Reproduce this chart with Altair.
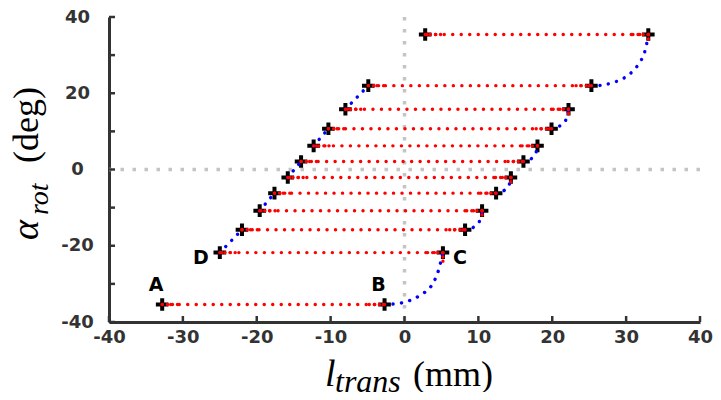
import altair as alt
import pandas as pd

# ---------------- data ----------------
x_ticks = [-40, -30, -20, -10, 0, 10, 20, 30, 40]
y_ticks = [-40, -30, -20, -10, 0, 10, 20, 30, 40]
y_labels = [-40, -20, 0, 20, 40]

# turning points (black crosses) in path order
wx = [-32.8, -2.7, 5.2, -25.0, -22.0, 8.2, 10.5, -19.6, -17.6, 12.4, 14.4, -15.8,
      -14.0, 16.1, 18.0, -12.3, -10.3, 19.9, 22.2, -8.0, -4.9, 25.3, 33.0, 2.8]
wy = [-35.4, -35.4, -21.8, -21.8, -15.8, -15.8, -10.8, -10.8, -6.2, -6.2, -2.1, -2.1,
      2.1, 2.1, 6.2, 6.2, 10.7, 10.7, 15.8, 15.8, 22.0, 22.0, 35.4, 35.4]

# curved blue connectors on the right side (connector index -> points)
curves_x = {
    0: [-2.7, -0.4, 1.6, 3.4, 4.3, 4.9, 5.2],
    2: [8.2, 9.2, 10.0, 10.4, 10.5],
    4: [12.4, 13.4, 14.1, 14.4],
    6: [16.1, 17.0, 17.7, 18.0],
    8: [19.9, 21.1, 21.9, 22.2],
    10: [25.3, 26.7, 28.7, 30.2, 31.5, 32.3, 32.7, 33.0],
}
curves_y = {
    0: [-35.4, -35.0, -33.6, -31.1, -28.1, -24.3, -21.8],
    2: [-15.8, -15.3, -14.0, -12.5, -10.8],
    4: [-6.2, -5.6, -4.3, -2.1],
    6: [2.1, 2.6, 4.0, 6.2],
    8: [10.7, 11.5, 13.2, 15.8],
    10: [22.0, 22.1, 23.1, 24.6, 27.1, 29.7, 32.2, 35.4],
}

# red hooks below the right-hand turning points
hook_idx = [2, 6, 10, 14, 18, 22]
hook_bottom = [-24.3, -12.0, -3.3, 5.2, 14.6, 33.4]

label_names = ["A", "B", "C", "D"]
label_idx = [0, 1, 2, 3]

# ---------------- layout ----------------
W, H = 591, 305
DENSE = 2.6
RED, BLUE = "#ff0000", "#0000ff"
AX = "#333333"

XS = alt.Scale(domain=[-40, 40], nice=False, zero=False)
YS = alt.Scale(domain=[-40, 40], nice=False, zero=False)
lab_expr = "'' + datum.value"
xax = alt.Axis(values=x_ticks, title=None, grid=False, ticks=False, tickSize=0,
               domainColor=AX, domainWidth=3, labelFont="DejaVu Sans",
               labelFontWeight="bold", labelFontSize=18, labelColor=AX,
               labelPadding=6, labelFlush=False, labelOverlap=False,
               labelExpr=lab_expr)
yax = alt.Axis(values=y_labels, title=None, grid=False, ticks=False, tickSize=0,
               domainColor=AX, domainWidth=3, labelFont="DejaVu Sans",
               labelFontWeight="bold", labelFontSize=18, labelColor=AX,
               labelPadding=32, labelAlign="center", labelBaseline="middle",
               labelFlush=False, labelOverlap=False, labelExpr=lab_expr)


def X(f="x"):
    return alt.X(f"{f}:Q", scale=XS, axis=xax)


def Y(f="y"):
    return alt.Y(f"{f}:Q", scale=YS, axis=yax)


# ---------------- build tables ----------------
red_rows = pd.DataFrame({"x": wx[0::2], "x2": wx[1::2], "y": wy[0::2]})

dense_rows = []
for k in range(12):
    a, b, y = wx[2 * k], wx[2 * k + 1], wy[2 * k]
    s = 1 if b > a else -1
    dense_rows.append({"x": a, "x2": a + s * DENSE, "y": y})
    dense_rows.append({"x": b, "x2": b - s * DENSE, "y": y})
dense_df = pd.DataFrame(dense_rows)

blue_rows = []
for c in range(11):
    if c in curves_x:
        xs, ys = curves_x[c], curves_y[c]
    else:
        xs = [wx[2 * c + 1], wx[2 * c + 2]]
        ys = [wy[2 * c + 1], wy[2 * c + 2]]
    for i, (xx, yy) in enumerate(zip(xs, ys)):
        blue_rows.append({"seg": c, "o": i, "x": xx, "y": yy})
blue_df = pd.DataFrame(blue_rows)

hook_df = pd.DataFrame({"x": [wx[i] for i in hook_idx],
                        "y": [wy[i] for i in hook_idx],
                        "y2": hook_bottom})
pts_df = pd.DataFrame({"x": wx, "y": wy})
lab_df = pd.DataFrame({"t": label_names,
                       "x": [wx[i] for i in label_idx],
                       "y": [wy[i] for i in label_idx]})

# ---------------- layers ----------------
grid_v = alt.Chart(pd.DataFrame({"x": [0]})).mark_rule(
    color="#c4c4c4", strokeWidth=3.5, strokeDash=[3.5, 8.5]).encode(x=X())
grid_h = alt.Chart(pd.DataFrame({"y": [0]})).mark_rule(
    color="#c4c4c4", strokeWidth=3.5, strokeDash=[3.5, 8.5]).encode(y=Y())

xt = alt.Chart(pd.DataFrame({"x": x_ticks})).mark_rule(
    color=AX, strokeWidth=2.5).encode(x=X(), y=alt.value(H), y2=alt.value(H - 6))
yt = alt.Chart(pd.DataFrame({"y": y_ticks})).mark_rule(
    color=AX, strokeWidth=2.5).encode(y=Y(), x=alt.value(0), x2=alt.value(6))

markers = alt.Chart(pts_df).mark_point(
    shape="M-1,0L1,0M0,-1L0,1", filled=False, stroke="black", strokeWidth=4,
    size=160, opacity=1).encode(x=X(), y=Y())

dot = dict(strokeWidth=3.4, strokeCap="round")
blue = alt.Chart(blue_df).mark_line(
    color=BLUE, strokeDash=[0.1, 8.4], interpolate="catmull-rom", **dot).encode(
    x=X(), y=Y(), detail="seg:N", order="o:Q")
red = alt.Chart(red_rows).mark_rule(color=RED, strokeDash=[0.1, 8.4], **dot).encode(
    x=X(), x2=alt.X2("x2"), y=Y())
dense = alt.Chart(dense_df).mark_rule(color=RED, strokeDash=[0.1, 5.0], **dot).encode(
    x=X(), x2=alt.X2("x2"), y=Y())
hooks = alt.Chart(hook_df).mark_rule(color=RED, strokeDash=[0.1, 4.2], **dot).encode(
    x=X(), y=Y(), y2=alt.Y2("y2"))

lab_style = dict(font="DejaVu Sans", fontWeight="bold", fontSize=19, color="black")
lab_ab = alt.Chart(lab_df).transform_filter(
    alt.FieldOneOfPredicate(field="t", oneOf=["A", "B"])).mark_text(
    dx=-6, dy=-19, **lab_style).encode(x=X(), y=Y(), text="t:N")
lab_c = alt.Chart(lab_df).transform_filter(
    alt.FieldEqualPredicate(field="t", equal="C")).mark_text(
    dx=17, dy=5, **lab_style).encode(x=X(), y=Y(), text="t:N")
lab_d = alt.Chart(lab_df).transform_filter(
    alt.FieldEqualPredicate(field="t", equal="D")).mark_text(
    dx=-19, dy=5, **lab_style).encode(x=X(), y=Y(), text="t:N")

one = pd.DataFrame({"a": [0]})


def title_part(text, px, py, size, italic=True, angle=0):
    kw = dict(text=text, font="Liberation Serif", fontSize=size, color="black",
              align="left", baseline="alphabetic")
    if italic:
        kw["fontStyle"] = "italic"
    if angle:
        kw["angle"] = angle
    return alt.Chart(one).mark_text(**kw).encode(x=alt.value(px), y=alt.value(py))


titles = [
    title_part("l", 216, 369, 38),
    title_part("trans", 226, 375, 32),
    title_part("(mm)", 304, 369, 36, italic=False),
    title_part("\u03b1", -71, 223, 38, angle=270),
    title_part("rot", -61, 198, 28, angle=270),
    title_part("(deg)", -71, 146, 36, italic=False, angle=270),
]

chart = alt.layer(grid_v, grid_h, xt, yt, markers, blue, red, dense, hooks,
                  lab_ab, lab_c, lab_d, *titles).properties(
    width=W, height=H,
    autosize=alt.AutoSizeParams(type="none"),
    padding={"left": 101, "top": 9, "right": 13, "bottom": 70},
).configure_view(stroke=None)

chart.save("out.html", embed_options={"renderer": "svg", "actions": False})
